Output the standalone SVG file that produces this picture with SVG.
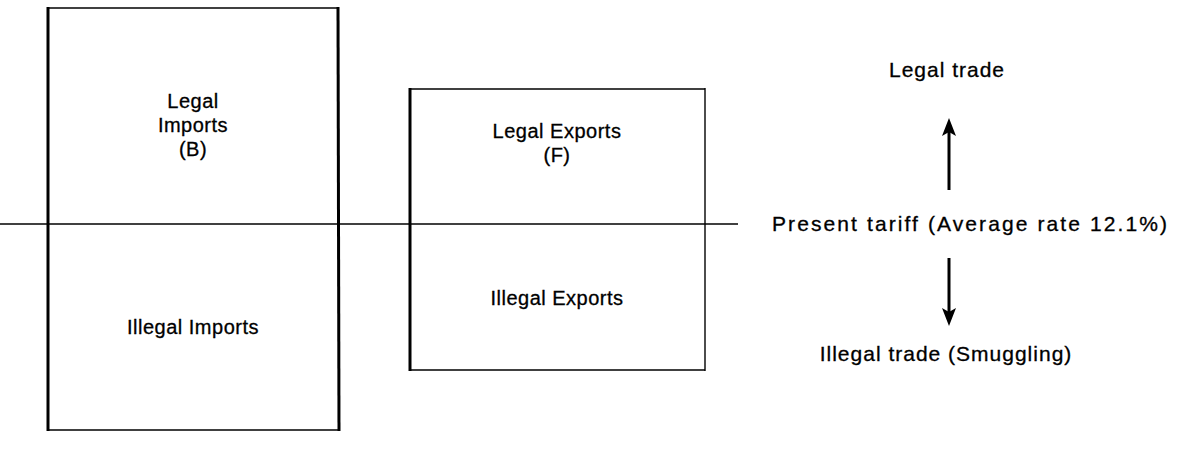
<svg xmlns="http://www.w3.org/2000/svg" width="1184" height="450" viewBox="0 0 1184 450">
  <style>
    .lbl { font-family: "Liberation Sans", Arial, sans-serif; font-size: 20px; fill: #000; stroke: #000; stroke-width: 0.3; text-anchor: middle; letter-spacing: 0.5px; }
    .side { font-size: 21px; letter-spacing: 1px; }
    .thin { stroke: #000; stroke-width: 1.4; fill: none; }
    .thick { stroke: #000; stroke-width: 3; fill: none; }
  </style>
  <defs>
    <!-- filled arrowhead; its tip sits 8px beyond the end of the shaft -->
    <marker id="head" viewBox="0 0 18 14" refX="10" refY="7" markerWidth="18" markerHeight="14" markerUnits="userSpaceOnUse" orient="auto">
      <path d="M0,0 L18,7 L0,14 L4,7 Z" fill="#000"/>
    </marker>
  </defs>
  <rect width="1184" height="450" fill="#fff"/>

  <!-- imports block -->
  <g id="imports">
    <line class="thin" x1="47" y1="8" x2="339" y2="8"/>
    <line class="thin" x1="47" y1="430" x2="339" y2="430"/>
    <line class="thick" x1="48" y1="7" x2="48" y2="431"/>
    <line class="thick" x1="338" y1="7" x2="339" y2="431"/>
    <text class="lbl" x="193" y="108">Legal</text>
    <text class="lbl" x="193" y="132">Imports</text>
    <text class="lbl" x="193" y="156">(B)</text>
    <text class="lbl" x="193" y="334">Illegal Imports</text>
  </g>

  <!-- exports block -->
  <g id="exports">
    <line class="thin" x1="409" y1="89" x2="705" y2="89"/>
    <line class="thin" x1="409" y1="370" x2="705" y2="370"/>
    <line class="thick" x1="410" y1="88" x2="410" y2="371"/>
    <line class="thin" x1="705" y1="88" x2="705" y2="371" stroke-width="2.2"/>
    <text class="lbl" x="557" y="138">Legal Exports</text>
    <text class="lbl" x="557" y="162">(F)</text>
    <text class="lbl" x="557" y="305">Illegal Exports</text>
  </g>

  <!-- tariff scale -->
  <g id="tariff">
    <text class="lbl side" x="947" y="77">Legal trade</text>
    <text class="lbl side" x="970" y="231" textLength="396" lengthAdjust="spacing">Present tariff (Average rate 12.1%)</text>
    <text class="lbl side" x="946" y="361">Illegal trade (Smuggling)</text>
  </g>

  <!-- connectors -->
  <g id="connectors">
    <line class="thin" x1="0" y1="224" x2="738" y2="224"/>
    <line class="thick" x1="949" y1="190" x2="949" y2="126" marker-end="url(#head)"/>
    <line class="thick" x1="949" y1="258" x2="949" y2="318" marker-end="url(#head)"/>
  </g>
</svg>
